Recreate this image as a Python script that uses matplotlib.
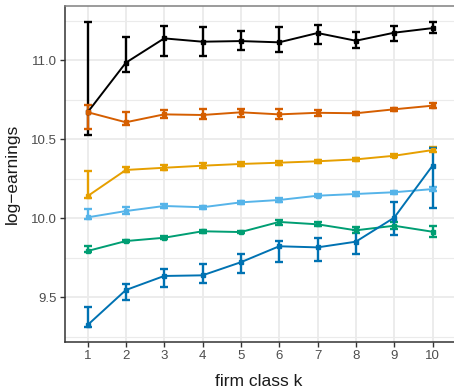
import numpy as np
import matplotlib
matplotlib.use('Agg')
import matplotlib.pyplot as plt
from matplotlib.ticker import MultipleLocator

plt.rcParams['font.family'] = ['Liberation Sans', 'DejaVu Sans']

k = [1, 2, 3, 4, 5, 6, 7, 8, 9, 10]

# mean log-earnings per firm class, with lower / upper interval bounds
black_mean = [10.670, 10.985, 11.139, 11.118, 11.122, 11.114, 11.173, 11.124, 11.175, 11.204]
black_lo = [10.527, 10.928, 11.027, 11.025, 11.063, 11.051, 11.105, 11.078, 11.122, 11.171]
black_hi = [11.240, 11.147, 11.215, 11.209, 11.185, 11.213, 11.223, 11.181, 11.215, 11.244]

verm_mean = [10.672, 10.608, 10.658, 10.654, 10.671, 10.658, 10.668, 10.665, 10.690, 10.713]
verm_lo = [10.563, 10.592, 10.633, 10.626, 10.640, 10.630, 10.650, 10.655, 10.680, 10.696]
verm_hi = [10.715, 10.671, 10.687, 10.689, 10.694, 10.689, 10.686, 10.675, 10.700, 10.730]

orange_mean = [10.140, 10.306, 10.320, 10.333, 10.344, 10.352, 10.361, 10.373, 10.396, 10.432]
orange_lo = [10.130, 10.290, 10.305, 10.316, 10.329, 10.339, 10.351, 10.363, 10.386, 10.420]
orange_hi = [10.301, 10.322, 10.335, 10.350, 10.359, 10.365, 10.371, 10.383, 10.406, 10.450]

sky_mean = [10.006, 10.046, 10.078, 10.070, 10.101, 10.116, 10.143, 10.154, 10.165, 10.185]
sky_lo = [9.994, 10.030, 10.068, 10.060, 10.091, 10.106, 10.133, 10.144, 10.155, 10.170]
sky_hi = [10.059, 10.070, 10.088, 10.080, 10.111, 10.126, 10.153, 10.164, 10.175, 10.200]

green_mean = [9.793, 9.856, 9.877, 9.918, 9.913, 9.977, 9.962, 9.924, 9.953, 9.915]
green_lo = [9.789, 9.848, 9.869, 9.910, 9.905, 9.955, 9.950, 9.905, 9.930, 9.879]
green_hi = [9.827, 9.864, 9.885, 9.926, 9.921, 9.990, 9.974, 9.945, 9.975, 9.953]

blue_mean = [9.324, 9.546, 9.635, 9.639, 9.722, 9.823, 9.816, 9.852, 10.004, 10.333]
blue_lo = [9.310, 9.481, 9.568, 9.589, 9.651, 9.722, 9.730, 9.774, 9.892, 10.067]
blue_hi = [9.437, 9.586, 9.676, 9.711, 9.773, 9.857, 9.876, 9.926, 10.101, 10.447]

series = [
    (black_mean, black_lo, black_hi, '#000000'),
    (verm_mean, verm_lo, verm_hi, '#D55E00'),
    (orange_mean, orange_lo, orange_hi, '#E69F00'),
    (sky_mean, sky_lo, sky_hi, '#56B4E9'),
    (green_mean, green_lo, green_hi, '#009E73'),
    (blue_mean, blue_lo, blue_hi, '#0072B2'),
]

fig = plt.figure(figsize=(4.54, 3.91), dpi=100)
# panel runs a little past the right edge of the figure
ax = fig.add_axes([64.5 / 454, 49 / 391, 391 / 454, 336 / 391])

for mean, lo, hi, col in series:
    mean = np.array(mean)
    yerr = [mean - np.array(lo), np.array(hi) - mean]
    ax.errorbar(k, mean, yerr=yerr, color=col, lw=1.4, elinewidth=1.7,
                capsize=3, capthick=1.7, marker='s', markersize=3.5, zorder=3)

ax.set_xlim(0.4, 10.6)
ax.set_ylim(9.217, 11.344)
ax.set_xticks(k)
ax.yaxis.set_major_locator(MultipleLocator(0.5))
ax.yaxis.set_minor_locator(MultipleLocator(0.25))
ax.set_yticks([9.5, 10.0, 10.5, 11.0])
ax.set_yticklabels(['9.5', '10.0', '10.5', '11.0'])

ax.grid(True, which='major', color='#EBEBEB', lw=1.3, zorder=0)
ax.grid(True, which='minor', axis='y', color='#EBEBEB', lw=0.8, zorder=0)
ax.set_axisbelow(True)

ax.tick_params(axis='both', which='major', length=3.5, width=1.0, color='#333333',
               labelsize=9.5, labelcolor='#4D4D4D', pad=2)
ax.tick_params(axis='y', which='minor', length=0)

for side in ['left', 'bottom']:
    ax.spines[side].set_color('#333333')
    ax.spines[side].set_linewidth(1.1)
ax.spines['top'].set_color('#808080')
ax.spines['top'].set_linewidth(1.1)
ax.spines['right'].set_visible(False)

ax.set_xlabel('firm class k', fontsize=12.5, color='#1A1A1A', va='center')
ax.set_ylabel('log\u2212earnings', fontsize=12.5, color='#1A1A1A', va='center')
ax.xaxis.set_label_coords((259 - 64.5) / 391, -0.118)
ax.yaxis.set_label_coords((12 - 64.5) / 391, 0.5)

fig.savefig('out.png', dpi=100)
